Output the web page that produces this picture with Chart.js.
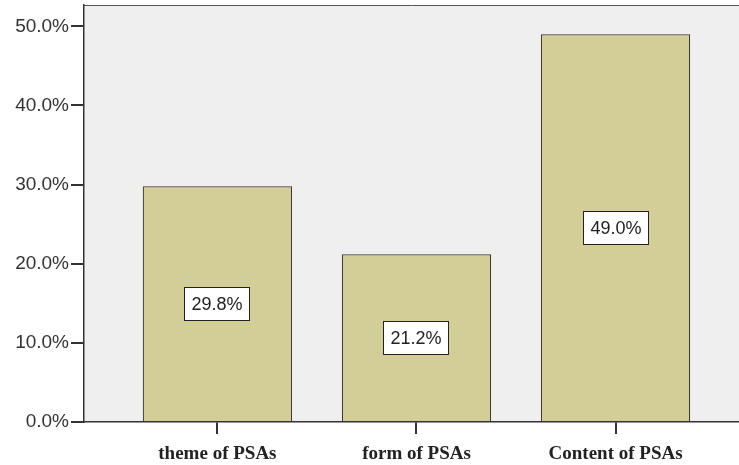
<!DOCTYPE html>
<html>
<head>
<meta charset="utf-8">
<script src="https://cdn.jsdelivr.net/npm/chart.js@4/dist/chart.umd.min.js"></script>
<style>
  body { margin: 0; background: #ffffff; }
  #psa-chart { display: block; }
</style>
</head>
<body>
<canvas id="psa-chart" width="739" height="465"></canvas>
<script>
// categories and their shares (percent)
const categories = ['theme of PSAs', 'form of PSAs', 'Content of PSAs'];
const shares = [29.8, 21.2, 49.0];
const yTicks = [0, 10, 20, 30, 40, 50];

// grey plot background plus the thin frame line on top
const plotBackground = {
  id: 'plotBackground',
  beforeDraw(chart) {
    const { ctx, chartArea: a } = chart;
    ctx.save();
    ctx.fillStyle = '#efefef';
    ctx.fillRect(a.left, a.top, a.right - a.left, a.bottom - a.top);
    ctx.strokeStyle = '#555555';
    ctx.lineWidth = 1;
    ctx.beginPath();
    ctx.moveTo(a.left, a.top + 0.5);
    ctx.lineTo(a.right, a.top + 0.5);
    ctx.stroke();
    ctx.restore();
  }
};

// white value boxes in the middle of each bar
const valueBoxes = {
  id: 'valueBoxes',
  afterDatasetsDraw(chart) {
    const ctx = chart.ctx;
    const meta = chart.getDatasetMeta(0);
    ctx.save();
    ctx.font = '18px "Liberation Sans", Arial, sans-serif';
    ctx.textAlign = 'center';
    ctx.textBaseline = 'middle';
    meta.data.forEach((bar, i) => {
      const text = shares[i].toFixed(1) + '%';
      const cx = Math.round(bar.x);
      const cy = Math.round((bar.y + bar.base) / 2);
      const w = Math.ceil(ctx.measureText(text).width) + 14;
      const h = 34;
      ctx.fillStyle = '#ffffff';
      ctx.fillRect(cx - w / 2, cy - h / 2, w, h);
      ctx.strokeStyle = '#222222';
      ctx.lineWidth = 1;
      ctx.strokeRect(cx - w / 2 + 0.5, cy - h / 2 + 0.5, w - 1, h - 1);
      ctx.fillStyle = '#222222';
      ctx.fillText(text, cx, cy + 1);
    });
    ctx.restore();
  }
};

// keep the plot area where it belongs, no extra room for edge labels
function noEdgePadding(scale) {
  scale.paddingTop = 0;
  scale.paddingBottom = 0;
  scale.paddingLeft = 0;
  scale.paddingRight = 0;
}

const ctx = document.getElementById('psa-chart').getContext('2d');
const chart = new Chart(ctx, {
  type: 'bar',
  data: {
    datasets: [{
      data: shares.map((v, i) => ({ x: i, y: v })),
      backgroundColor: '#d3ce97',
      borderColor: '#3c3c32',
      borderWidth: 1.2,
      borderSkipped: 'bottom',
      barPercentage: 0.75,
      categoryPercentage: 1
    }]
  },
  options: {
    responsive: false,
    animation: false,
    layout: { padding: { top: 5, right: 0, left: 0, bottom: 0 } },
    plugins: {
      legend: { display: false },
      tooltip: { enabled: false }
    },
    scales: {
      x: {
        type: 'linear',
        offset: false,
        min: -0.67,
        max: 2.62,
        afterBuildTicks: (scale) => {
          scale.ticks = categories.map((c, i) => ({ value: i }));
        },
        afterFit: (scale) => {
          scale.height = 43;
          noEdgePadding(scale);
        },
        grid: {
          display: true,
          offset: false,
          drawOnChartArea: false,
          drawTicks: true,
          tickLength: 12,
          color: '#333333',
          lineWidth: 2
        },
        border: { display: true, color: '#333333', width: 1.5 },
        ticks: {
          padding: 9,
          maxRotation: 0,
          color: '#222222',
          font: { family: '"Liberation Serif", "Times New Roman", serif', size: 19, weight: 'bold' },
          callback: (value) => categories[value]
        }
      },
      y: {
        min: 0,
        max: 52.7,
        afterBuildTicks: (scale) => {
          scale.ticks = yTicks.map(v => ({ value: v }));
        },
        afterFit: (scale) => {
          scale.width = 84;
          noEdgePadding(scale);
        },
        grid: {
          display: true,
          drawOnChartArea: false,
          drawTicks: true,
          tickLength: 13,
          color: '#333333',
          lineWidth: 2
        },
        border: { display: true, color: '#333333', width: 1.5 },
        ticks: {
          padding: 2,
          color: '#333333',
          font: { family: '"Liberation Sans", Arial, sans-serif', size: 19 },
          callback: (value) => value.toFixed(1) + '%'
        }
      }
    }
  },
  plugins: [plotBackground, valueBoxes]
});
</script>
</body>
</html>
